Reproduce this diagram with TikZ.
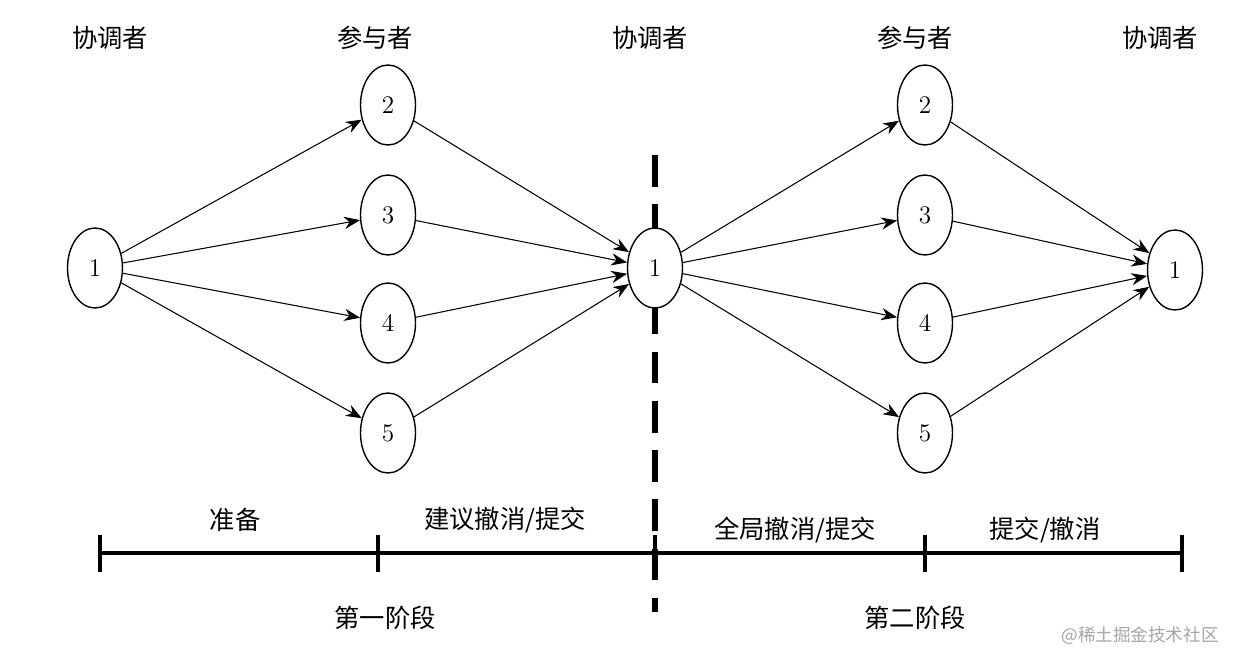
\documentclass[tikz,border=0pt]{standalone}
\usepackage{fontspec}
\newfontfamily\cjk{Noto Sans CJK SC}
\usetikzlibrary{shapes.geometric,arrows.meta}
\begin{document}
\begin{tikzpicture}[x=0.02cm,y=-0.02cm,
  st/.style={draw,thick,fill=white,ellipse,minimum width=1.1cm,minimum height=1.6cm,inner sep=0pt,font=\Large},
  lab/.style={font=\cjk\Large},
  arr/.style={-{Stealth[length=9pt,width=7pt]},line width=0.6pt}]
\useasboundingbox (0,0) rectangle (1238,666);
\draw[line width=3pt,dash pattern=on 18pt off 10pt] (655,155) -- (655,612);
\node[st] (a1) at (95,268) {1};
\foreach \i/\y in {2/105,3/215,4/323,5/433}{
  \node[st] (b\i) at (388,\y) {\i};
  \node[st] (d\i) at (925,\y) {\i};}
\node[st] (c1) at (655,268) {1};
\node[st] (e1) at (1175,270) {1};
\foreach \i in {2,3,4,5}{
  \draw[arr] (a1) -- (b\i);
  \draw[arr] (b\i) -- (c1);
  \draw[arr] (c1) -- (d\i);
  \draw[arr] (d\i) -- (e1);}
\node[lab] (t1) at (110,38) {协调者};
\node[lab] (t2) at (375,38) {参与者};
\node[lab] (t3) at (650,38) {协调者};
\node[lab] (t4) at (915,38) {参与者};
\node[lab] (t5) at (1160,38) {协调者};
\draw[line width=1.8pt] (100,553) -- (1182,553);
\foreach \x in {100,378,655,925,1182}\draw[line width=2pt] (\x,535) -- (\x,572);
\node[lab] (p1) at (235,520) {准备};
\node[lab] (p2) at (505,520) {建议撤消/提交};
\node[lab] (p3) at (795,530) {全局撤消/提交};
\node[lab] (p4) at (1045,530) {提交/撤消};
\node[lab] (s1) at (385,618) {第一阶段};
\node[lab] (s2) at (915,618) {第二阶段};
\node[font=\cjk\normalsize,text=gray!70] (w) at (1140,636) {@稀土掘金技术社区};
\end{tikzpicture}
\end{document}
